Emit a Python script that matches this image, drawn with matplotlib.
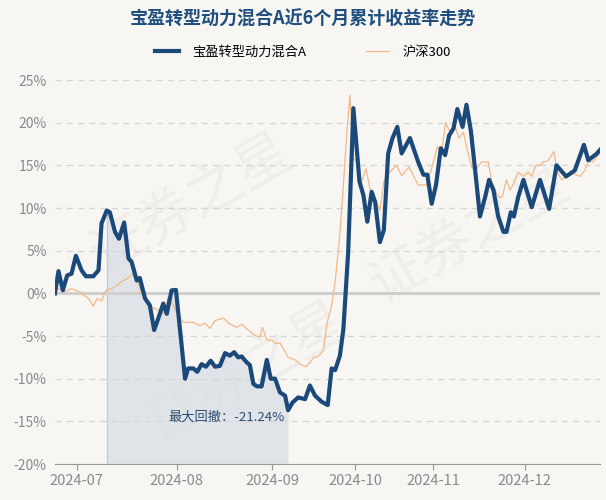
import matplotlib
matplotlib.use("Agg")
import matplotlib.pyplot as plt
import numpy as np

plt.rcParams['font.family'] = ['Noto Sans CJK SC', 'DejaVu Sans']

# x positions in trading days since 2024-06-24, values in %
fund_x = [0, 0.8, 1.8, 2.8, 3.8, 4.8, 6.1, 7.1, 8.8, 10.0, 10.7, 11.9, 12.6, 13.8,
          14.7, 15.9, 16.9, 17.6, 18.8, 19.5, 20.7, 21.8, 22.8, 23.7, 24.9, 25.7,
          26.8, 27.8, 29.9, 30.6, 31.8, 32.7, 33.7, 34.7, 35.8, 36.8, 37.9, 39.1,
          40.2, 41.2, 42.1, 42.9, 44.1, 44.8, 45.6, 46.4, 47.5, 48.7, 49.6, 50.6,
          51.7, 52.9, 53.6, 54.6, 55.9, 57.5, 58.6, 59.8, 61.3, 62.7, 63.6, 64.4,
          65.5, 66.3, 67.4, 68.6, 70.0, 70.9, 71.8, 72.8, 73.6, 74.7, 75.6, 76.6,
          77.6, 78.7, 79.7, 81.6, 83.5, 84.7, 85.6, 86.6, 87.6, 88.7, 89.7, 90.6,
          91.6, 92.5, 93.7, 94.6, 95.6, 96.6, 97.7, 98.9, 99.8, 100.8, 101.9,
          103.1, 103.8, 104.8, 105.5, 106.5, 107.7, 109.6, 111.5, 113.6, 115.3,
          117.5, 119.5, 121.6, 122.6, 124.4, 125.3]
fund_ret = [0.0, 2.6, 0.35, 2.1, 2.3, 4.4, 2.7, 2.0, 2.0, 2.7, 8.2, 9.7, 9.5, 7.2,
            6.4, 8.3, 4.1, 3.7, 1.5, 1.8, -0.6, -1.4, -4.3, -3.0, -1.2, -2.4,
            0.35, 0.4, -10.0, -8.8, -8.8, -9.2, -8.3, -8.6, -7.9, -8.6, -8.5, -7.0,
            -7.3, -6.9, -7.5, -7.4, -8.1, -8.4, -10.6, -10.9, -10.9, -7.8, -10.0, -10.0,
            -11.6, -12.0, -13.7, -12.8, -12.2, -12.4, -10.8, -12.0, -12.7, -13.1, -8.8, -9.0,
            -7.3, -4.2, 4.8, 21.7, 13.1, 11.5, 8.4, 11.9, 10.7, 6.0, 7.4, 16.4,
            18.2, 19.5, 16.4, 18.2, 15.4, 13.9, 13.9, 10.5, 12.7, 17.0, 16.2, 18.5,
            19.3, 21.6, 19.5, 22.1, 19.1, 14.4, 9.0, 11.3, 13.3, 12.1, 9.0,
            7.2, 7.2, 9.5, 9.0, 11.3, 13.3, 10.1, 13.3, 9.9, 15.0,
            13.7, 14.4, 17.4, 15.6, 16.3, 16.8]

hs300_x = [0, 0.8, 1.9, 3.8, 5.7, 7.7, 8.8, 9.7, 10.7, 11.7, 13.0, 14.2, 15.3, 16.5,
           17.9, 18.9, 19.9, 21.1, 22.2, 23.4, 24.5, 25.3, 26.0, 27.2, 28.3, 29.5,
           31.8, 33.3, 34.5, 35.6, 36.8, 38.7, 40.2, 41.8, 42.9, 44.4, 46.2, 47.1,
           47.7, 48.7, 49.8, 50.8, 51.7, 52.5, 53.6, 55.2, 56.3, 57.7, 58.6, 59.5,
           60.5, 61.7, 62.5, 63.6, 64.4, 65.4, 66.3, 67.1, 67.8, 68.6, 69.5, 70.5,
           71.5, 72.4, 73.6, 74.7, 75.6, 76.6, 78.5, 79.7, 81.4, 83.5, 85.4, 86.8,
           87.9, 88.9, 89.8, 90.8, 92.0, 92.9, 93.9, 94.6, 95.8, 96.6, 98.1, 99.6,
           100.4, 101.5, 102.3, 102.9, 103.8, 104.6, 105.4, 106.5, 107.7, 108.8,
           109.6, 110.6, 111.5, 112.3, 113.2, 113.8, 114.7, 115.5, 116.5, 117.7,
           119.2, 120.7, 121.8, 122.6, 123.7, 124.5, 125.3]
hs300_ret = [0.35, 0.55, 0.15, 0.55, 0.15, -0.6, -1.5, -0.6, -0.9, 0.35, 0.55, 0.9, 1.4, 1.7,
             2.3, 1.5, -0.1, -1.1, -1.6, -1.9, -2.2, -2.4, -0.4, -1.4, -2.6, -3.4,
             -3.4, -3.8, -3.5, -4.1, -3.2, -2.9, -3.6, -4.0, -3.6, -4.3, -5.0, -5.1,
             -4.0, -5.5, -5.5, -5.9, -5.8, -6.5, -7.5, -7.8, -8.3, -8.6, -8.1, -7.5,
             -7.4, -6.7, -3.6, -1.4, 1.3, 6.4, 12.7, 18.9, 23.2, 15.8, 15.4, 13.1,
             14.6, 12.3, 11.1, 9.7, 13.1, 14.0, 15.0, 13.8, 14.8, 12.7, 12.7, 15.0,
             17.2, 16.6, 20.0, 18.9, 19.5, 18.2, 18.9, 17.2, 14.8, 14.4, 15.4, 15.4,
             13.1, 11.7, 11.2, 11.4, 13.3, 12.1, 12.8, 14.2, 13.7, 14.2,
             13.7, 15.0, 15.0, 15.4, 15.5, 15.9, 16.6, 14.2, 13.3, 13.7,
             14.0, 13.7, 14.4, 15.4, 15.4, 16.0, 16.3]

tick_days = [5, 28, 50, 69, 87, 108]
tick_labels = ['2024-07', '2024-08', '2024-09', '2024-10', '2024-11', '2024-12']
max_dd = -21.24

bg = '#f8f6f2'
navy = '#1b4a7a'
orange = '#f0b98a'

fig = plt.figure(figsize=(6.06, 5.0), dpi=100, facecolor=bg)
ax = fig.add_axes([55 / 606, 36 / 500, 545 / 606, 384 / 500])
ax.set_facecolor(bg)

# faint watermark, kept inside the plot area
for wx, wy in [(0.25, 0.68), (0.35, 0.24), (0.76, 0.6)]:
    ax.text(wx, wy, '证券之星', transform=ax.transAxes, fontsize=40, color='#000000',
            alpha=0.035, rotation=30, ha='center', va='center', zorder=0)

# drawdown shading from peak to trough
fx = np.array(fund_x)
fy = np.array(fund_ret)
i_peak = int(np.argmax(fy[:40]))
i_low = int(np.argmin(fy[:70]))
ax.fill_between(fx[i_peak:i_low + 1], fy[i_peak:i_low + 1], -20,
                color='#d8dfe6', alpha=0.75, lw=0, zorder=1)
ax.vlines(fx[i_peak], -20, fy[i_peak], color='#c3cbd3', lw=1, zorder=1)

for v in range(-15, 30, 5):
    if v == 0:
        ax.axhline(0, color='#cfcfcf', lw=2.2, zorder=1)
    else:
        ax.axhline(v, color='#d6d6d6', lw=0.9, ls=(0, (5, 4)), zorder=1)

ax.plot(hs300_x, hs300_ret, color=orange, lw=0.9, zorder=2, label='沪深300')
ax.plot(fund_x, fund_ret, color=navy, lw=3.0, zorder=3, label='宝盈转型动力混合A',
        solid_joinstyle='round')

ax.text(39.5, -14.5, '最大回撤：%.2f%%' % max_dd, color='#2c4d70', fontsize=9.5,
        ha='center', va='center', zorder=4)

ax.set_xlim(0, 125.3)
ax.set_ylim(-20, 25)
ax.set_yticks(range(-20, 30, 5))
ax.set_yticklabels(['%d%%' % v for v in range(-20, 30, 5)])
ax.set_xticks(tick_days)
ax.set_xticklabels(tick_labels)
ax.tick_params(axis='y', length=0, colors='#8a8a8a', labelsize=10, pad=6)
ax.tick_params(axis='x', length=4, color='#999999', labelcolor='#8a8a8a', labelsize=10.5, pad=3)
for s in ['top', 'right', 'left']:
    ax.spines[s].set_visible(False)
ax.spines['bottom'].set_color('#999999')

fig.text(0.5, 0.962, '宝盈转型动力混合A近6个月累计收益率走势', ha='center', va='center',
         fontsize=13, fontweight='bold', color='#1f4f7f')
handles, labels = ax.get_legend_handles_labels()
fig.legend(handles[::-1], labels[::-1], loc='center', bbox_to_anchor=(0.5, 0.895), ncol=2,
           frameon=False, fontsize=9.5, handlelength=1.8, columnspacing=4.5, handletextpad=1.0)

fig.savefig('out.png', dpi=100, facecolor=bg)
